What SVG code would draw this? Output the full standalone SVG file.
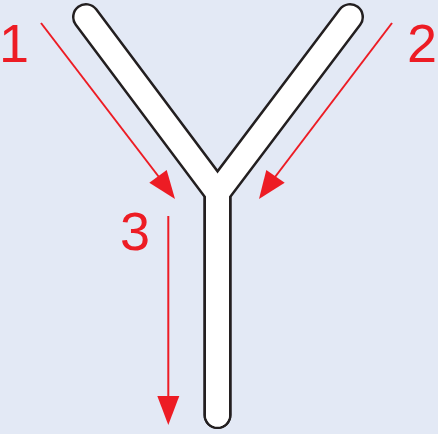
<svg xmlns="http://www.w3.org/2000/svg" width="438" height="434" viewBox="0 0 438 434">
<defs>
<style>
.tube-o{fill:none;stroke:#231f20;stroke-width:28;stroke-linecap:round;stroke-linejoin:miter}
.tube-i{fill:none;stroke:#ffffff;stroke-width:23;stroke-linecap:round;stroke-linejoin:miter}
.arr{fill:none;stroke:#ed1c24;stroke-width:2}
.head{fill:#ed1c24}
.lbl{font-family:"Liberation Sans",Arial,sans-serif;font-size:54px;fill:#ed1c24;text-anchor:middle}
</style>
</defs>
<rect width="438" height="434" fill="#e3e9f5"/>
<g id="tube">
<path class="tube-o" d="M86,17 L217.5,192.5 L217.5,415"/>
<path class="tube-o" d="M350,17 L217.5,192.5 L217.5,415"/>
<path class="tube-i" d="M86,17 L217.5,192.5 L217.5,415"/>
<path class="tube-i" d="M350,17 L217.5,192.5 L217.5,415"/>
</g>
<g id="connectors">
<g id="arrow1">
<line class="arr" x1="41" y1="23" x2="162" y2="181"/>
<polygon class="head" points="175,199 149.3,182.7 166.7,170"/>
</g>
<g id="arrow2">
<line class="arr" x1="392" y1="23" x2="272" y2="181"/>
<polygon class="head" points="259,199 266.3,170 284.7,182.7"/>
</g>
<g id="arrow3">
<line class="arr" x1="168.3" y1="216" x2="168.3" y2="400"/>
<polygon class="head" points="168.3,425 157.3,396 179.3,396"/>
</g>
</g>
<g id="labels">
<text class="lbl" x="14" y="62">1</text>
<text class="lbl" x="422" y="62">2</text>
<text class="lbl" x="135" y="250">3</text>
</g>
</svg>
